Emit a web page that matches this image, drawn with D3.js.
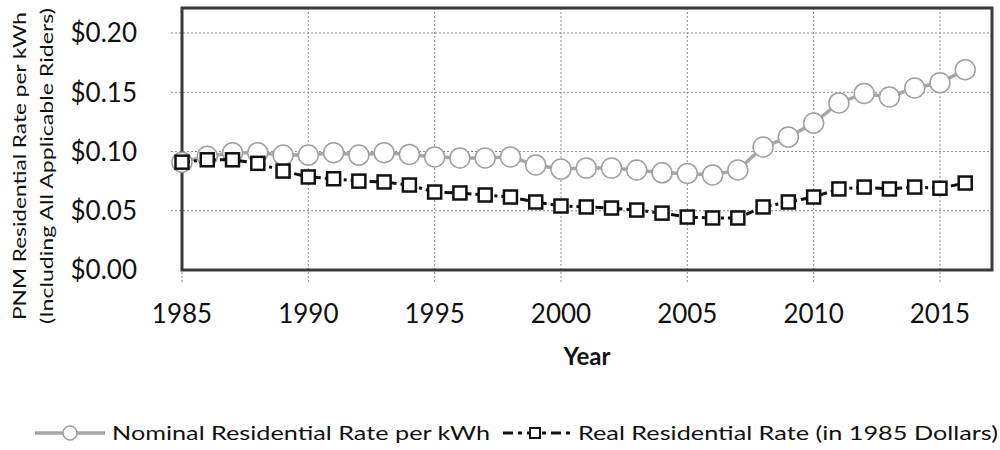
<!DOCTYPE html>
<html>
<head>
<meta charset="utf-8">
<script src="https://cdn.jsdelivr.net/npm/d3@7"></script>
<style>
  body { margin: 0; background: #fff; }
  svg { display: block; font-family: Lato, "Open Sans", sans-serif; }
</style>
</head>
<body>
<div id="chart"></div>
<script>
// PNM residential rate per kWh, nominal vs real (1985 dollars)

const years = [1985, 1986, 1987, 1988, 1989, 1990, 1991, 1992, 1993, 1994, 1995,
  1996, 1997, 1998, 1999, 2000, 2001, 2002, 2003, 2004, 2005, 2006, 2007, 2008,
  2009, 2010, 2011, 2012, 2013, 2014, 2015, 2016];

const nominal = [0.091, 0.096, 0.099, 0.099, 0.097, 0.097, 0.099, 0.097, 0.099, 0.0975,
  0.0954, 0.0945, 0.0945, 0.0954, 0.0886, 0.0852, 0.086, 0.086, 0.0844, 0.082,
  0.0815, 0.0802, 0.0844, 0.1038, 0.1122, 0.124, 0.141, 0.149, 0.146, 0.1536,
  0.158, 0.169];

const real = [0.091, 0.093, 0.093, 0.090, 0.0835, 0.0785, 0.077, 0.075, 0.0743, 0.0717,
  0.0658, 0.065, 0.0633, 0.0616, 0.0574, 0.054, 0.0532, 0.0523, 0.0506, 0.048,
  0.0447, 0.0439, 0.0439, 0.0532, 0.0574, 0.0616, 0.0684, 0.070, 0.0684, 0.070,
  0.069, 0.0734];

const xTicks = [1985, 1990, 1995, 2000, 2005, 2010, 2015];
const yTicks = [0, 0.05, 0.10, 0.15, 0.20];

const seriesNames = ['Nominal Residential Rate per kWh', 'Real Residential Rate (in 1985 Dollars)'];

const width = 1000, height = 450;
const plot = { left: 182, right: 992, top: 8, bottom: 270 };

const svg = d3.select('#chart').append('svg')
  .attr('width', width)
  .attr('height', height);

const x = d3.scaleLinear().domain([1985, 2017.06]).range([plot.left, plot.right]);
const y = d3.scaleLinear().domain([0, 0.2211]).range([plot.bottom, plot.top]);

// gridlines (dotted, they poke out past the frame like tick marks)
svg.append('g')
  .selectAll('line')
  .data(yTicks.filter(d => d > 0))
  .join('line')
  .attr('x1', plot.left - 11).attr('x2', plot.right)
  .attr('y1', d => y(d)).attr('y2', d => y(d))
  .attr('stroke', '#8a8a8a')
  .attr('stroke-width', 1)
  .attr('stroke-dasharray', '2,2');

svg.append('g')
  .selectAll('line')
  .data(xTicks)
  .join('line')
  .attr('x1', d => x(d)).attr('x2', d => x(d))
  .attr('y1', plot.top).attr('y2', plot.bottom + 12)
  .attr('stroke', '#8a8a8a')
  .attr('stroke-width', 1)
  .attr('stroke-dasharray', '2,2');

// plot frame
svg.append('rect')
  .attr('x', plot.left).attr('y', plot.top)
  .attr('width', plot.right - plot.left)
  .attr('height', plot.bottom - plot.top)
  .attr('fill', 'none')
  .attr('stroke', '#3a3a3a')
  .attr('stroke-width', 3);

// tick labels
svg.append('g')
  .selectAll('text')
  .data(yTicks)
  .join('text')
  .attr('x', 137)
  .attr('y', d => y(d))
  .attr('dy', '0.36em')
  .attr('text-anchor', 'end')
  .attr('font-size', 26)
  .attr('fill', '#111')
  .text(d => '$' + d3.format('.2f')(d));

svg.append('g')
  .selectAll('text')
  .data(xTicks)
  .join('text')
  .attr('x', d => x(d))
  .attr('y', 323)
  .attr('text-anchor', 'middle')
  .attr('font-size', 26)
  .attr('fill', '#111')
  .text(d => d);

// axis titles
svg.append('text')
  .attr('x', (plot.left + plot.right) / 2)
  .attr('y', 365)
  .attr('text-anchor', 'middle')
  .attr('font-size', 24)
  .attr('font-weight', 'bold')
  .attr('fill', '#111')
  .text('Year');

const yTitle = svg.append('text')
  .attr('transform', 'translate(0,166) rotate(-90)')
  .attr('text-anchor', 'middle')
  .attr('font-size', 17)
  .attr('fill', '#111');
yTitle.append('tspan').attr('x', 0).attr('y', 26)
  .attr('textLength', 308).attr('lengthAdjust', 'spacingAndGlyphs')
  .text('PNM Residential Rate per kWh');
yTitle.append('tspan').attr('x', 0).attr('y', 53)
  .attr('textLength', 316).attr('lengthAdjust', 'spacingAndGlyphs')
  .text('(Including All Applicable Riders)');

// series
const line = d3.line()
  .x((d, i) => x(years[i]))
  .y(d => y(d));

svg.append('path')
  .datum(nominal)
  .attr('d', line)
  .attr('fill', 'none')
  .attr('stroke', '#a6a6a6')
  .attr('stroke-width', 3.5);

svg.append('g')
  .selectAll('circle')
  .data(nominal)
  .join('circle')
  .attr('cx', (d, i) => x(years[i]))
  .attr('cy', d => y(d))
  .attr('r', 10)
  .attr('fill', '#fff')
  .attr('stroke', '#a0a0a0')
  .attr('stroke-width', 1.5);

svg.append('path')
  .datum(real)
  .attr('d', line)
  .attr('fill', 'none')
  .attr('stroke', '#111')
  .attr('stroke-width', 3)
  .attr('stroke-dasharray', '8,4,3,4');

svg.append('g')
  .selectAll('rect')
  .data(real)
  .join('rect')
  .attr('x', (d, i) => x(years[i]) - 6.5)
  .attr('y', d => y(d) - 6.5)
  .attr('width', 13)
  .attr('height', 13)
  .attr('fill', '#fff')
  .attr('stroke', '#111')
  .attr('stroke-width', 2.5);

// legend
const legY = 433;
const leg = svg.append('g');

leg.append('line')
  .attr('x1', 35).attr('x2', 105)
  .attr('y1', legY).attr('y2', legY)
  .attr('stroke', '#a6a6a6').attr('stroke-width', 3.5);
leg.append('circle')
  .attr('cx', 70).attr('cy', legY).attr('r', 7)
  .attr('fill', '#fff').attr('stroke', '#a0a0a0').attr('stroke-width', 1.5);
leg.append('text')
  .attr('x', 112).attr('y', 440)
  .attr('font-size', 19)
  .attr('fill', '#111')
  .attr('textLength', 378).attr('lengthAdjust', 'spacingAndGlyphs')
  .text(seriesNames[0]);

leg.append('line')
  .attr('x1', 503).attr('x2', 572)
  .attr('y1', legY).attr('y2', legY)
  .attr('stroke', '#111').attr('stroke-width', 3)
  .attr('stroke-dasharray', '10,5,4,5');
leg.append('rect')
  .attr('x', 530).attr('y', legY - 5)
  .attr('width', 10).attr('height', 10)
  .attr('fill', '#fff').attr('stroke', '#111').attr('stroke-width', 2);
leg.append('text')
  .attr('x', 578).attr('y', 440)
  .attr('font-size', 19)
  .attr('fill', '#111')
  .attr('textLength', 420).attr('lengthAdjust', 'spacingAndGlyphs')
  .text(seriesNames[1]);
</script>
</body>
</html>
